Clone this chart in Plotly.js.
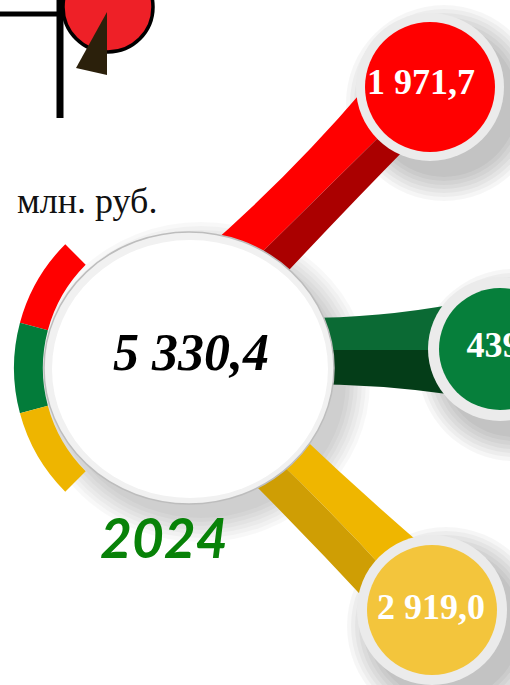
<!DOCTYPE html>
<html>
<head>
<meta charset="utf-8">
<script src="https://cdn.plot.ly/plotly-3.0.1.min.js"></script>
<style>html,body{margin:0;padding:0;background:#fff;}#chart{width:510px;height:685px;}</style>
</head>
<body>
<div id="chart"></div>
<script>
// ---- data ----
const segmentNames = ['Сегмент 1', 'Сегмент 2', 'Сегмент 3'];
const segmentValues = [1971.7, 439.7, 2919.0];
const yearLabel = '2024';
const unitLabel = 'млн. руб.';
const ringShares = [1, 1, 1];           // decorative ring: equal arcs

// ---- styles / layout positions ----
const segColors = ['#ff0000', '#067f3b', '#f3c53c'];
const ringColors = ['#ff0000', '#037c3a', '#eeb500'];
const bubbleX = [430, 500, 432];
const bubbleY = [87, 349, 610];
const bubbleInner = [130, 122, 130];
const bubbleOuter = [148, 144, 150];
const textX = [421, 507, 431];
const textY = [85, 348, 610];
const C = {x: 189, y: 368, rx: 145, ry: 136};

const total = Math.round(segmentValues.reduce((a, b) => a + b, 0) * 10) / 10;

function circ(cx, cy, rx, ry, fill, line, lw, layer) {
  return {type: 'circle', xref: 'x', yref: 'y', x0: cx - rx, x1: cx + rx, y0: cy - ry, y1: cy + ry,
    fillcolor: fill, line: {color: line || 'rgba(0,0,0,0)', width: lw || 0}, layer: layer || 'below'};
}
function path(d, fill, layer) {
  return {type: 'path', xref: 'x', yref: 'y', path: d, fillcolor: fill, line: {width: 0}, layer: layer || 'below'};
}

const shapes = [];
// soft shadows
for (let i = 0; i < 7; i++) {
  shapes.push(circ(C.x + 12, C.y + 14, C.rx + i * 4, C.ry + i * 4, 'rgba(0,0,0,0.028)'));
}
for (let k = 0; k < 3; k++) {
  for (let i = 0; i < 7; i++) {
    const r = bubbleOuter[k] / 2 + i * 4;
    shapes.push(circ(bubbleX[k] + 14, bubbleY[k] + 16, r, r, 'rgba(0,0,0,0.035)'));
  }
}
// branches
shapes.push(path('M 200 254 Q 288 178 365 88 L 388 128 Q 320 195 252 262 Z', '#ff0000'));
shapes.push(path('M 252 262 Q 320 195 388 128 L 412 142 Q 345 210 275 285 Z', '#aa0000'));
shapes.push(path('M 300 318 Q 380 318 455 304 L 455 350 L 300 350 Z', '#0b6a34'));
shapes.push(path('M 300 350 L 455 350 L 455 395 Q 380 384 300 384 Z', '#043d18'));
shapes.push(path('M 295 430 Q 360 492 430 552 L 392 578 Q 335 515 272 455 Z', '#efb600'));
shapes.push(path('M 272 455 Q 335 515 392 578 L 372 607 Q 310 540 245 475 Z', '#cf9e04'));
// central white disc
shapes.push(circ(C.x, C.y, C.rx, C.ry, '#f1f1f1', '#bdbdbd', 1.5));
shapes.push(circ(C.x + 1, C.y + 1, C.rx - 7, C.ry - 7, '#ffffff'));
// top-left icon
shapes.push({type: 'line', xref: 'x', yref: 'y', x0: 0, x1: 60, y0: 14, y1: 14, line: {color: '#000', width: 5}, layer: 'above'});
shapes.push({type: 'line', xref: 'x', yref: 'y', x0: 60, x1: 60, y0: 0, y1: 118, line: {color: '#000', width: 7}, layer: 'above'});
shapes.push(circ(108, 7, 45, 45, '#ee2027', '#000', 3.5, 'above'));
shapes.push(path('M 107 12 L 76 68 L 107 75 Z', '#2b200b', 'above'));

const traces = [];
// decorative ring as a pie (counterclockwise: first slice ends at `rotation`)
const ringTotal = ringShares.reduce((a, b) => a + b, 0);
const ringR = 175;
traces.push({
  type: 'pie', values: ringShares.concat([ringTotal * 3]),
  labels: segmentNames.concat(['_rest']),
  marker: {colors: ringColors.concat(['rgba(0,0,0,0)']), line: {width: 0}},
  sort: false, direction: 'counterclockwise', rotation: -45 - 90 * ringShares[0] / ringTotal, hole: 0.835,
  textinfo: 'none', hoverinfo: 'skip', showlegend: false,
  domain: {x: [(C.x - ringR) / 510, (C.x + ringR) / 510], y: [(685 - C.y - ringR) / 685, (685 - C.y + ringR) / 685]}
});
// bubbles
traces.push({type: 'scatter', mode: 'markers', x: bubbleX, y: bubbleY, hoverinfo: 'skip',
  marker: {size: bubbleOuter, color: '#ebebeb', opacity: 1, line: {width: 0}}});
traces.push({type: 'scatter', mode: 'markers', x: bubbleX, y: bubbleY, hoverinfo: 'skip',
  marker: {size: bubbleInner, color: segColors, opacity: 1, line: {width: 0}}});
// bubble values
traces.push({type: 'scatter', mode: 'text', x: textX, y: textY, customdata: segmentValues,
  texttemplate: '%{customdata:,.1f}', textposition: 'middle center', hoverinfo: 'skip',
  textfont: {family: 'Liberation Serif, Times New Roman, serif', size: 36, color: '#ffffff', weight: 'bold'}});
// total
traces.push({type: 'scatter', mode: 'text', x: [C.x + 2], y: [357], customdata: [total],
  texttemplate: '%{customdata:,.1f}', textposition: 'middle center', hoverinfo: 'skip',
  textfont: {family: 'Liberation Serif, Times New Roman, serif', size: 52, color: '#000000', weight: 'bold', style: 'italic'}});

const layout = {
  width: 510, height: 685, margin: {l: 0, r: 0, t: 0, b: 0},
  paper_bgcolor: '#ffffff', plot_bgcolor: 'rgba(0,0,0,0)', showlegend: false,
  separators: ', ',
  xaxis: {range: [0, 510], visible: false, fixedrange: true},
  yaxis: {range: [685, 0], visible: false, fixedrange: true},
  shapes: shapes,
  annotations: [
    {xref: 'x', yref: 'y', x: 15, y: 201, xanchor: 'left', yanchor: 'middle', showarrow: false, text: unitLabel,
      font: {family: 'Liberation Serif, Times New Roman, serif', size: 36, color: '#111'}},
    {xref: 'x', yref: 'y', x: 164, y: 537, xanchor: 'center', yanchor: 'middle', showarrow: false, text: yearLabel,
      font: {family: 'Lato, sans-serif', size: 55, color: '#088208', weight: 'bold', style: 'italic'}}
  ]
};
Plotly.newPlot('chart', traces, layout, {staticPlot: true, displayModeBar: false});
</script>
</body>
</html>
